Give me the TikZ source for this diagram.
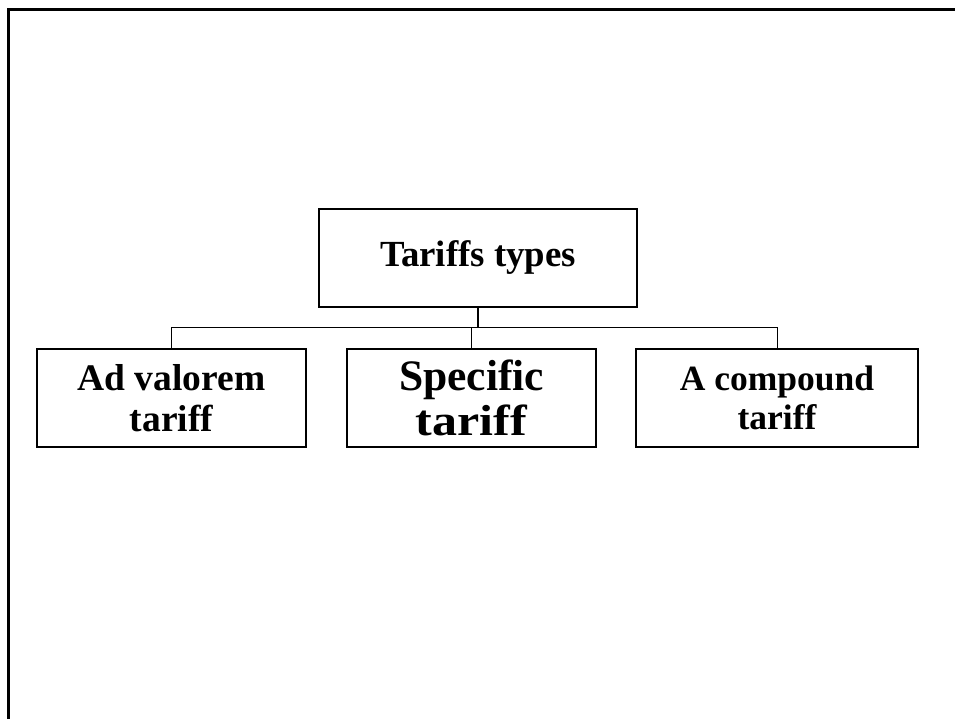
\documentclass[tikz,border=0pt]{standalone}
\usepackage{fontspec}
\usepackage{graphicx}
\setmainfont{Liberation Serif}
\begin{document}
\begin{tikzpicture}[x=1pt,y=-1pt,
  box/.style={draw, line width=1.2pt, inner sep=0pt, align=center, minimum height=98pt},
  conn/.style={line width=1pt}]
\useasboundingbox (0,0) rectangle (955,719);
\draw[line width=3pt] (8.5,719) -- (8.5,9.5) -- (955,9.5);
\node[box, minimum width=318pt, font=\bfseries\fontsize{36.8}{41}\selectfont] (top) at (478,258) {Tariffs types};
\node[box, minimum width=269pt, font=\bfseries\fontsize{37.5}{41}\selectfont] (adv) at (171.5,398) {Ad valorem\\tariff};
\node[box, minimum width=249pt, font=\bfseries\fontsize{43.5}{45}\selectfont] (spec) at (471.5,398) {Specific\\\scalebox{1.15}[1]{tariff}};
\node[box, minimum width=282pt, font=\bfseries\fontsize{35.5}{39}\selectfont] (comp) at (777,398) {A compound\\tariff};
\coordinate (bus) at (0,327);
\draw[line width=2pt] (top.south) -- (top.south |- bus);
\draw[conn] (adv.north) -- (adv.north |- bus) -- (comp.north |- bus) -- (comp.north);
\draw[conn] (spec.north) -- (spec.north |- bus);
\end{tikzpicture}
\end{document}
